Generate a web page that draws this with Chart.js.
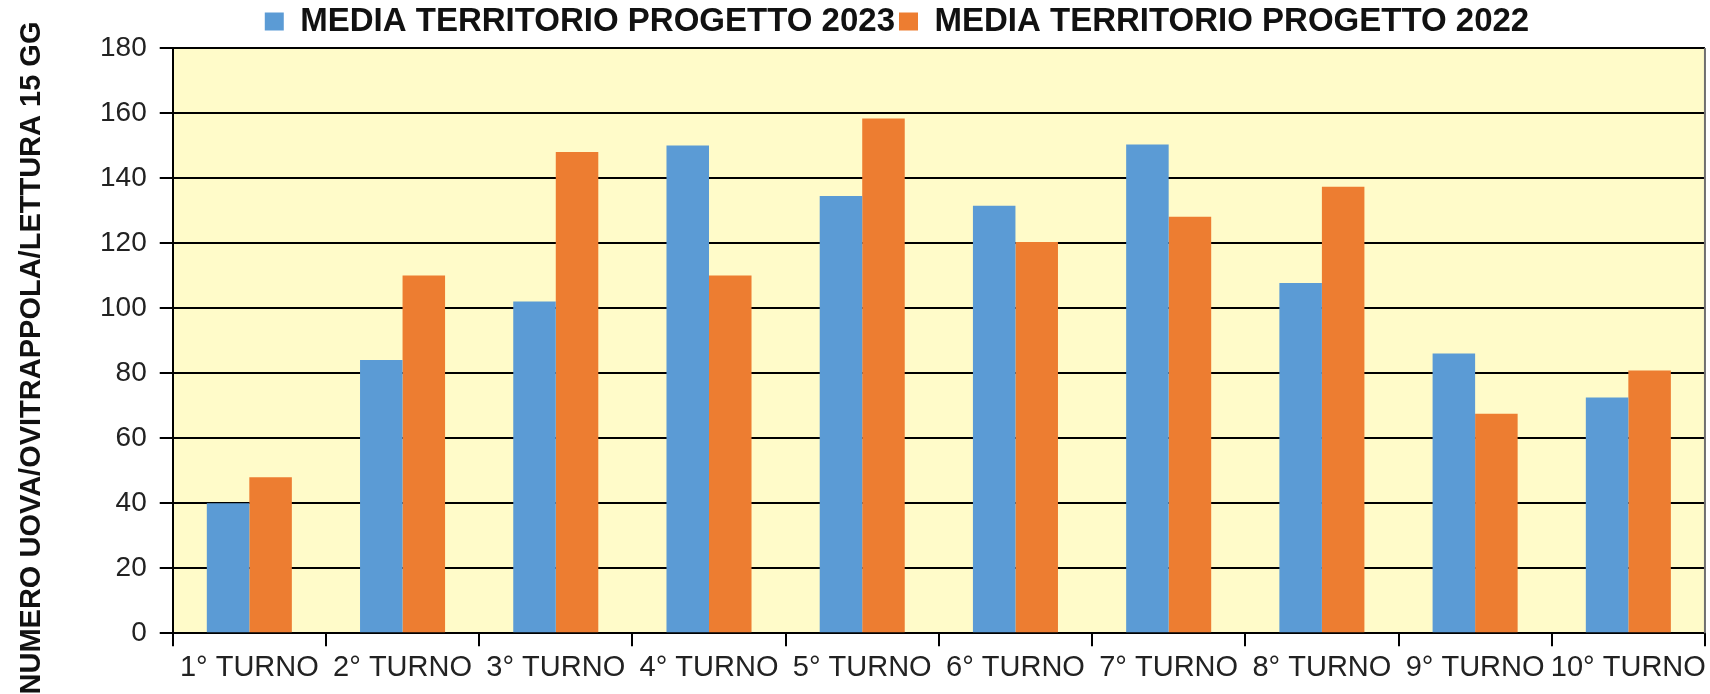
<!DOCTYPE html>
<html>
<head>
<meta charset="utf-8">
<script src="https://cdn.jsdelivr.net/npm/chart.js@4.4.0/dist/chart.umd.min.js"></script>
<style>
	html, body { margin: 0; padding: 0; background: #fff; }
</style>
</head>
<body>
<canvas id="bar-chartcanvas" width="1710" height="694"></canvas>
<script>
	// values
	var categories = ["1° TURNO", "2° TURNO", "3° TURNO", "4° TURNO", "5° TURNO", "6° TURNO", "7° TURNO", "8° TURNO", "9° TURNO", "10° TURNO"];
	var media2023 = [40, 84, 102, 150, 134.5, 131.5, 150.3, 107.7, 86, 72.5];
	var media2022 = [48, 110, 148, 110, 158.3, 120.3, 128.1, 137.3, 67.5, 80.8];
	var seriesLabels = ["MEDIA TERRITORIO PROGETTO 2023", "MEDIA TERRITORIO PROGETTO 2022"];
	var yTicks = [0, 20, 40, 60, 80, 100, 120, 140, 160, 180];
	var yTitle = "NUMERO UOVA/OVITRAPPOLA/LETTURA 15 GG";

	var fontFamily = "'Liberation Sans', Arial, sans-serif";

	/**
	 * yellow plot area, grey right border and the rotated y title
	 * (the title in the original runs off the bottom of the picture)
	 */
	var plotArea = {
		id : "plotArea",
		beforeDraw : function(chart) {
			var a = chart.chartArea;
			var ctx = chart.ctx;
			ctx.save();
			ctx.fillStyle = "#FFFBC9";
			ctx.fillRect(a.left, a.top, a.right - a.left, a.bottom - a.top);
			ctx.restore();
		},
		afterDraw : function(chart) {
			var a = chart.chartArea;
			var ctx = chart.ctx;
			ctx.save();
			ctx.strokeStyle = "#6f6f6f";
			ctx.lineWidth = 2;
			ctx.beginPath();
			ctx.moveTo(a.right, a.top);
			ctx.lineTo(a.right, a.bottom);
			ctx.stroke();

			ctx.translate(32, 358);
			ctx.rotate(-Math.PI / 2);
			ctx.fillStyle = "#111";
			ctx.font = "bold 29px " + fontFamily;
			ctx.textAlign = "center";
			ctx.textBaseline = "middle";
			ctx.fillText(yTitle, 0, 0);
			ctx.restore();
		}
	};

	var ctx1 = document.getElementById("bar-chartcanvas");

	var data1 = {
		labels : categories,
		datasets : [
			{
				label : seriesLabels[0],
				backgroundColor : "#5B9BD5",
				data : media2023
			},
			{
				label : seriesLabels[1],
				backgroundColor : "#ED7D31",
				data : media2022
			}
		]
	};

	var options = {
		responsive : false,
		animation : false,
		devicePixelRatio : 1,
		layout : {
			padding : { top : 1, right : 3, bottom : 5, left : 87 }
		},
		datasets : {
			bar : {
				categoryPercentage : 0.555,
				barPercentage : 1.0
			}
		},
		plugins : {
			legend : {
				display : true,
				position : "top",
				labels : {
					boxWidth : 19,
					boxHeight : 18,
					padding : 4,
					color : "#111",
					font : { family : fontFamily, size : 33, weight : "bold" }
				}
			},
			tooltip : { enabled : false }
		},
		scales : {
			x : {
				grid : {
					display : true,
					drawOnChartArea : false,
					drawTicks : true,
					tickLength : 13,
					color : "#000",
					lineWidth : 2
				},
				border : { color : "#000", width : 2 },
				ticks : {
					color : "#222",
					padding : 4,
					maxRotation : 0,
					autoSkip : false,
					font : { family : fontFamily, size : 29 }
				}
			},
			y : {
				min : 0,
				max : 180,
				afterBuildTicks : function(axis) {
					axis.ticks = yTicks.map(function(v) { return { value : v }; });
				},
				grid : {
					color : "#000",
					lineWidth : 2,
					tickLength : 13
				},
				border : { color : "#000", width : 2 },
				ticks : {
					color : "#222",
					padding : 13,
					font : { family : fontFamily, size : 28 }
				}
			}
		}
	};

	var chart1 = new Chart(ctx1, {
		type : "bar",
		data : data1,
		options : options,
		plugins : [plotArea]
	});
</script>
</body>
</html>
